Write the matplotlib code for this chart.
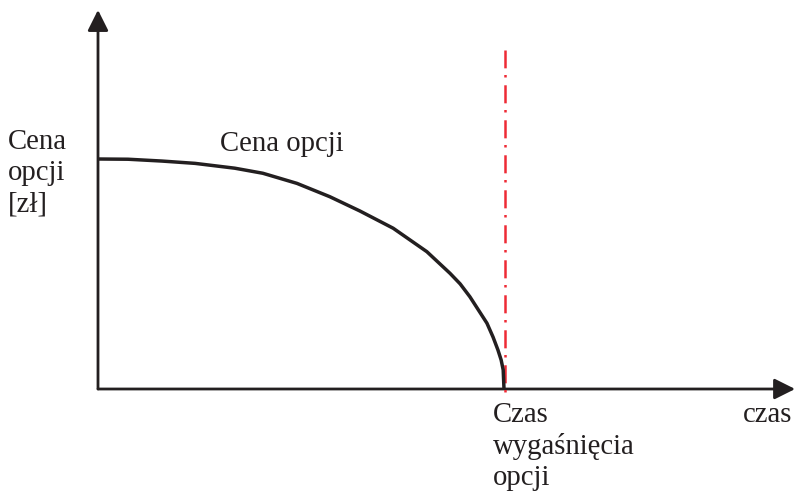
import matplotlib
matplotlib.use("Agg")
import matplotlib.pyplot as plt

# --- data ---
time_vals = [0.0, 0.074, 0.158, 0.239, 0.337, 0.406, 0.490, 0.571, 0.645,
             0.727, 0.810, 0.867, 0.892, 0.916, 0.958, 0.973, 0.985, 0.993,
             0.998, 1.0]
price_vals = [100.0, 99.9, 99.1, 98.1, 96.0, 93.8, 89.4, 83.6, 77.4,
              69.9, 59.7, 50.3, 45.7, 40.1, 28.6, 22.6, 17.0, 12.6,
              8.3, 0.0]
expiry_time = 1.0
expiry_line_range = [-1.5, 147.4]
x_axis_end = 1.717
y_axis_end = 164.8

y_label = "Cena\nopcji\n[zł]"
curve_label = "Cena opcji"
expiry_label = "Czas\nwygaśnięcia\nopcji"
x_label = "czas"

ink = "#231f20"
red = "#ee2a35"

plt.rcParams["font.family"] = ["Liberation Serif", "DejaVu Serif"]
plt.rcParams["lines.scale_dashes"] = False

fig = plt.figure(figsize=(7.95, 4.93), dpi=100)
ax = fig.add_axes([0, 0, 1, 1])
ax.set_xlim(-98 / 406, (795 - 98) / 406)
ax.set_ylim(-(493 - 389) / 2.3, 389 / 2.3)
ax.axis("off")

# axes with arrows
arrow_kw = dict(arrowstyle="-|>,head_length=0.9,head_width=0.45", color=ink,
                lw=2.0, shrinkA=0, shrinkB=0, mutation_scale=14)
ax.annotate("", xy=(0, y_axis_end), xytext=(0, 0), arrowprops=arrow_kw)
ax.annotate("", xy=(x_axis_end, 0), xytext=(0, 0), arrowprops=arrow_kw)

# expiry line
ax.plot([expiry_time + 0.002, expiry_time + 0.002], expiry_line_range, color=red,
        lw=1.8, dashes=(1.8, 4.8, 13.0, 5.6), zorder=3)

# option price curve
ax.plot(time_vals, price_vals, color=ink, lw=2.5, solid_capstyle="butt",
        solid_joinstyle="round", zorder=4)

fs = 20.7
ax.text(8 / 795, 1 - 129 / 493, y_label, transform=fig.transFigure, fontsize=fs,
        color=ink, va="top", ha="left", linespacing=1.25)
ax.text(220 / 795, 1 - 131 / 493, curve_label, transform=fig.transFigure, fontsize=fs,
        color=ink, va="top", ha="left")
ax.text(493 / 795, 1 - 402 / 493, expiry_label, transform=fig.transFigure, fontsize=fs,
        color=ink, va="top", ha="left", linespacing=1.25)
ax.text(743 / 795, 1 - 402 / 493, x_label, transform=fig.transFigure, fontsize=fs,
        color=ink, va="top", ha="left")

fig.savefig("out.png", dpi=100)
